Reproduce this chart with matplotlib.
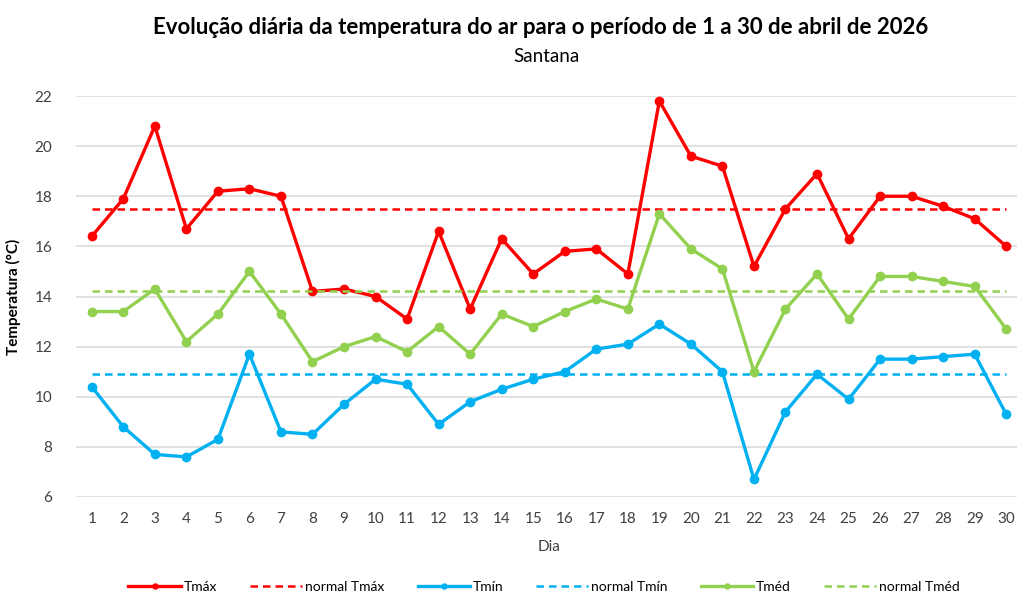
import matplotlib.pyplot as plt
import numpy as np

# dados
dias = np.arange(1, 31)
tmax = [16.4, 17.9, 20.8, 16.7, 18.2, 18.3, 18.0, 14.2, 14.3, 14.0,
        13.1, 16.6, 13.5, 16.3, 14.9, 15.8, 15.9, 14.9, 21.8, 19.6,
        19.2, 15.2, 17.5, 18.9, 16.3, 18.0, 18.0, 17.6, 17.1, 16.0]
tmin = [10.4, 8.8, 7.7, 7.6, 8.3, 11.7, 8.6, 8.5, 9.7, 10.7,
        10.5, 8.9, 9.8, 10.3, 10.7, 11.0, 11.9, 12.1, 12.9, 12.1,
        11.0, 6.7, 9.4, 10.9, 9.9, 11.5, 11.5, 11.6, 11.7, 9.3]
tmed = [13.4, 13.4, 14.3, 12.2, 13.3, 15.0, 13.3, 11.4, 12.0, 12.4,
        11.8, 12.8, 11.7, 13.3, 12.8, 13.4, 13.9, 13.5, 17.3, 15.9,
        15.1, 11.0, 13.5, 14.9, 13.1, 14.8, 14.8, 14.6, 14.4, 12.7]
normal_tmax = 17.5
normal_tmin = 10.9
normal_tmed = 14.2

vermelho = '#FF0000'
azul = '#00B0F0'
verde = '#92D050'
cinza = '#404040'

plt.rcParams['font.family'] = ['Lato', 'DejaVu Sans']

fig = plt.figure(figsize=(10.17, 5.94), dpi=100)
ax = fig.add_axes([76 / 1017, 1 - 497 / 594, 946 / 1017, 401 / 594])

ax.plot(dias, tmax, color=vermelho, lw=2.4, marker='o', ms=6, label='Tmáx')
ax.plot(dias, [normal_tmax] * len(dias), color=vermelho, lw=1.8, ls=(0, (3, 2)), label='normal Tmáx')
ax.plot(dias, tmin, color=azul, lw=2.4, marker='o', ms=6, label='Tmín')
ax.plot(dias, [normal_tmin] * len(dias), color=azul, lw=1.8, ls=(0, (3, 2)), label='normal Tmín')
ax.plot(dias, tmed, color=verde, lw=2.4, marker='o', ms=6, label='Tméd')
ax.plot(dias, [normal_tmed] * len(dias), color=verde, lw=1.8, ls=(0, (3, 2)), label='normal Tméd')

ax.set_xlim(0.5, 30.5)
ax.set_ylim(6, 22)
ax.set_yticks(np.arange(6, 23, 2))
ax.set_xticks(dias)
ax.grid(axis='y', color='#D9D9D9', lw=1.1)
ax.set_axisbelow(True)
for s in ax.spines.values():
    s.set_visible(False)
ax.tick_params(length=0, labelsize=11, colors=cinza)
ax.tick_params(axis='x', pad=11)
ax.tick_params(axis='y', pad=17)

ax.set_xlabel('Dia', fontsize=11, color=cinza, labelpad=10)
ax.set_ylabel('Temperatura (°C)', fontsize=11, fontweight='bold', labelpad=10)

fig.text(0.532, 1 - 27 / 594, 'Evolução diária da temperatura do ar para o período de 1 a 30 de abril de 2026',
         ha='center', va='center', fontsize=16, fontweight='bold')
fig.text(0.537, 1 - 57 / 594, 'Santana', ha='center', va='center', fontsize=13.5)

fig.legend(loc='center', bbox_to_anchor=(0.535, 1 - 587 / 594), ncol=6, frameon=False,
           fontsize=10, handlelength=3.75, columnspacing=2.4, handletextpad=0.2, markerscale=0.6)

fig.savefig('out.png', dpi=100)
